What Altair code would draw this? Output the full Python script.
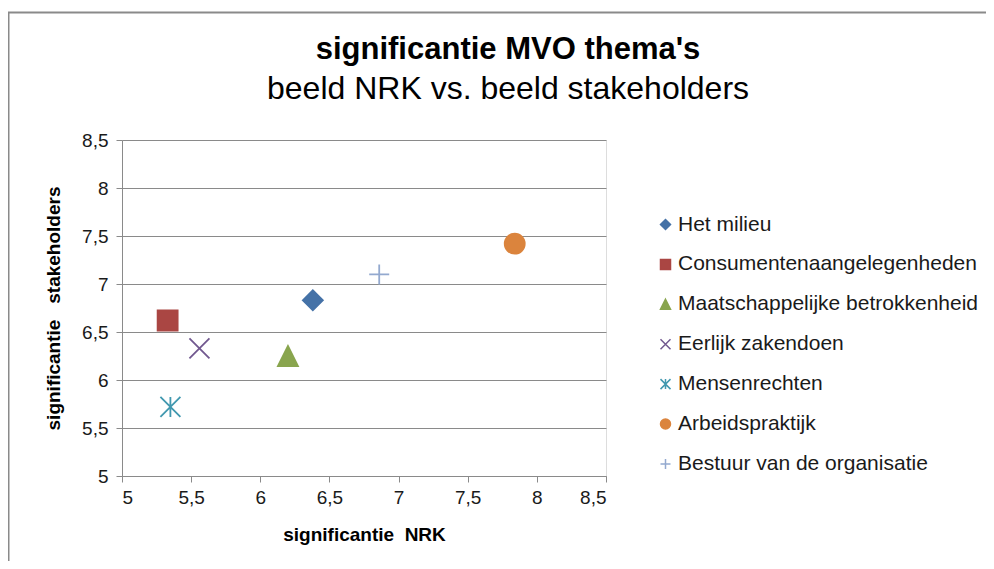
import altair as alt
import pandas as pd

THEMES = [
    "Het milieu",
    "Consumentenaangelegenheden",
    "Maatschappelijke betrokkenheid",
    "Eerlijk zakendoen",
    "Mensenrechten",
    "Arbeidspraktijk",
    "Bestuur van de organisatie",
]
NRK = [6.38, 5.33, 6.20, 5.56, 5.35, 7.84, 6.86]
STAKEHOLDERS = [6.83, 6.62, 6.25, 6.33, 5.72, 7.42, 7.10]
COLORS = ["#4572A7", "#AA4643", "#89A54E", "#71588F", "#4198AF", "#DB843D", "#93A9CF"]
SHAPES = [
    "diamond",
    "square",
    "M0,-1L1,1L-1,1Z",
    "M-1,-1L1,1M-1,1L1,-1",
    "M-1,-1L1,1M-1,1L1,-1M0,-1L0,1",
    "circle",
    "M-1,0L1,0M0,-1L0,1",
]
TICKS = [5, 5.5, 6, 6.5, 7, 7.5, 8, 8.5]

FONT = "Liberation Sans"
GRID = "#8a8a8a"

df = pd.DataFrame({"thema": THEMES, "nrk": NRK, "stake": STAKEHOLDERS})

label_expr = "replace(toString(datum.value), '.', ',')"

x = alt.X(
    "nrk:Q",
    scale=alt.Scale(domain=[5, 8.5], nice=False, zero=False),
    axis=alt.Axis(
        values=TICKS,
        labelExpr=label_expr,
        title="significantie\u00a0\u00a0NRK",
        titleFont=FONT,
        titleFontSize=19,
        titleFontWeight="bold",
        titleColor="#000000",
        titlePadding=18,
        labelFont=FONT,
        labelFontSize=19,
        labelColor="#1a1a1a",
        labelPadding=6,
        tickSize=6,
        tickColor=GRID,
        domainColor=GRID,
        grid=False,
    ),
)
y = alt.Y(
    "stake:Q",
    scale=alt.Scale(domain=[5, 8.5], nice=False, zero=False),
    axis=alt.Axis(
        values=TICKS,
        labelExpr=label_expr,
        title="significantie\u00a0\u00a0\u00a0stakeholders",
        titleFont=FONT,
        titleFontSize=19,
        titleFontWeight="bold",
        titleColor="#000000",
        titlePadding=18,
        labelFont=FONT,
        labelFontSize=19,
        labelColor="#1a1a1a",
        labelPadding=8,
        tickSize=6,
        tickColor=GRID,
        domainColor=GRID,
        grid=True,
        gridColor=GRID,
        gridWidth=1,
    ),
)

legend = alt.Legend(
    orient="none",
    legendX=533,
    legendY=74,
    title=None,
    labelFont=FONT,
    labelFontSize=21,
    labelColor="#1a1a1a",
    labelLimit=500,
    symbolSize=100,
    symbolStrokeWidth=1.5,
    rowPadding=17.9,
    labelOffset=2,
    padding=0,
)

color_scale = alt.Scale(domain=THEMES, range=COLORS)

points = (
    alt.Chart(df)
    .mark_point(filled=True, size=400, strokeWidth=1.8, opacity=1)
    .encode(
        x=x,
        y=y,
        fill=alt.Fill("thema:N", scale=color_scale, legend=legend),
        stroke=alt.Stroke("thema:N", scale=color_scale, legend=legend),
        shape=alt.Shape("thema:N", scale=alt.Scale(domain=THEMES, range=SHAPES), legend=legend),
    )
)

frame_df = pd.DataFrame({"k": [0]})
top_border = alt.Chart(frame_df).mark_rule(color=GRID, strokeWidth=2).encode(
    x=alt.value(-114), x2=alt.value(864), y=alt.value(-127.5)
)
left_border = alt.Chart(frame_df).mark_rule(color=GRID, strokeWidth=2).encode(
    x=alt.value(-113.5), y=alt.value(-128), y2=alt.value(421)
)

chart = (
    alt.layer(top_border, left_border, points)
    .properties(
        width=484,
        height=336,
        autosize=alt.AutoSizeParams(type="none"),
        padding={"left": 114, "top": 132, "right": 380, "bottom": 85},
        title=alt.TitleParams(
            text="significantie MVO thema's",
            subtitle="beeld NRK vs. beeld stakeholders",
            anchor="middle",
            frame="group",
            dx=144,
            offset=-95,
            font=FONT,
            fontSize=31,
            fontWeight="bold",
            color="#000000",
            subtitleFont=FONT,
            subtitleFontSize=32,
            subtitleFontWeight="normal",
            subtitleColor="#000000",
            subtitlePadding=8,
        ),
    )
    .configure_view(stroke=None)
    .configure(background="white")
)

chart.save("out.html", embed_options={"renderer": "svg", "actions": False})
